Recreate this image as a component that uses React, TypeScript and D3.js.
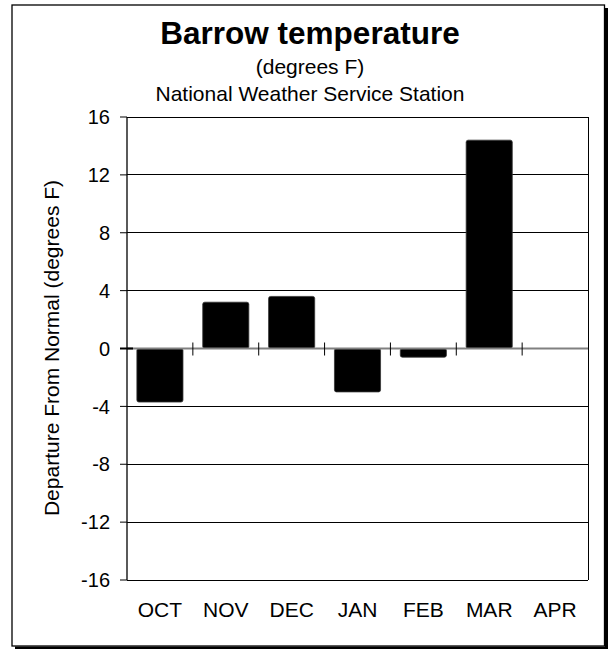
import React from "react";
import * as d3 from "d3";

const months = ["OCT", "NOV", "DEC", "JAN", "FEB", "MAR", "APR"];
const departures: (number | null)[] = [-3.7, 3.2, 3.6, -3.0, -0.6, 14.4, null];
const yTicks = [-16, -12, -8, -4, 0, 4, 8, 12, 16];

const W = 609;
const H = 649;
const plot = { left: 127, right: 588, top: 117, bottom: 580 };
const FONT = "'Liberation Sans', Arial, sans-serif";

export default function App() {
  const x = d3
    .scaleBand<string>()
    .domain(months)
    .range([plot.left, plot.right])
    .paddingInner(0.3)
    .paddingOuter(0.15);
  const y = d3.scaleLinear().domain([-16, 16]).range([plot.bottom, plot.top]);
  const step = x.step();
  const y0 = y(0);

  return (
    <svg
      width={W}
      height={H}
      style={{ position: "absolute", left: 0, top: 0, display: "block" }}
      fontFamily={FONT}
    >
      <rect x={0} y={0} width={W} height={H} fill="#fff" />
      {/* outer frame with shadow */}
      <rect x={605} y={8} width={3} height={641} fill="#000" />
      <rect x={15} y={646.5} width={593} height={2.5} fill="#000" />
      <rect x={12} y={5} width={592.5} height={641} fill="#fff" stroke="#000" strokeWidth={1.3} />

      {/* titles */}
      <text x={310} y={44} textAnchor="middle" fontSize={31.5} fontWeight="bold" fill="#000">
        Barrow temperature
      </text>
      <text x={310} y={74} textAnchor="middle" fontSize={21} fill="#000">
        (degrees F)
      </text>
      <text x={310} y={101} textAnchor="middle" fontSize={21} fill="#000">
        National Weather Service Station
      </text>

      {/* gridlines */}
      {yTicks
        .filter((t) => t !== 0)
        .map((t) => (
          <line
            key={"g" + t}
            x1={plot.left}
            x2={plot.right}
            y1={y(t)}
            y2={y(t)}
            stroke="#000"
            strokeWidth={1}
            shapeRendering="crispEdges"
          />
        ))}
      {/* plot right edge */}
      <line
        x1={plot.right}
        x2={plot.right}
        y1={plot.top}
        y2={plot.bottom}
        stroke="#000"
        strokeWidth={1}
        shapeRendering="crispEdges"
      />

      {/* bars */}
      {months.map((m, i) => {
        const v = departures[i];
        if (v === null || v === undefined) return null;
        const yv = y(v);
        return (
          <rect
            key={m}
            x={x(m)!}
            y={Math.min(yv, y0)}
            width={x.bandwidth()}
            height={Math.abs(yv - y0)}
            fill="#000"
            stroke="#333"
            strokeWidth={0.8}
            rx={2}
          />
        );
      })}

      {/* zero line */}
      <line x1={plot.left} x2={plot.right} y1={y0} y2={y0} stroke="#808080" strokeWidth={2} />
      {/* category ticks at band boundaries */}
      {months.slice(1).map((m) => {
        const bx = x(m)! - (step - x.bandwidth()) / 2;
        return (
          <line key={"t" + m} x1={bx} x2={bx} y1={y0 - 6} y2={y0 + 7} stroke="#000" strokeWidth={1} />
        );
      })}

      {/* y axis */}
      <line
        x1={plot.left}
        x2={plot.left}
        y1={plot.top}
        y2={plot.bottom}
        stroke="#000"
        strokeWidth={1.3}
      />
      {yTicks.map((t) => (
        <g key={"yt" + t}>
          <line
            x1={plot.left - 7}
            x2={t === 0 ? plot.left + 6 : plot.left}
            y1={y(t)}
            y2={y(t)}
            stroke="#000"
            strokeWidth={t === 0 ? 2 : 1}
          />
          <text x={110} y={y(t)} dy="0.36em" textAnchor="end" fontSize={20} fill="#000">
            {t}
          </text>
        </g>
      ))}

      {/* x labels */}
      {months.map((m) => (
        <text
          key={"xl" + m}
          x={x(m)! + x.bandwidth() / 2}
          y={617}
          textAnchor="middle"
          fontSize={21}
          fill="#000"
        >
          {m}
        </text>
      ))}

      {/* y axis title */}
      <text
        transform={`translate(59, 348) rotate(-90)`}
        textAnchor="middle"
        fontSize={21}
        fill="#000"
      >
        Departure From Normal (degrees F)
      </text>
    </svg>
  );
}
